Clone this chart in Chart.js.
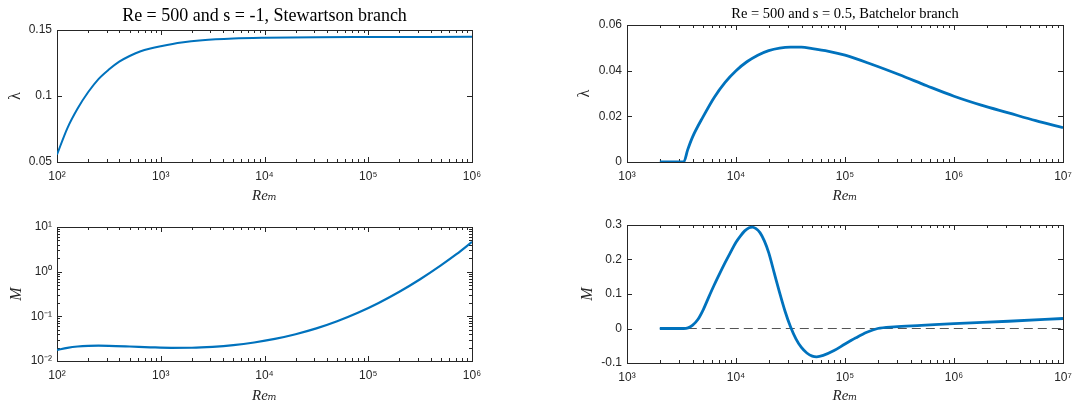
<!DOCTYPE html>
<html>
<head>
<meta charset="utf-8">
<script src="https://cdn.jsdelivr.net/npm/chart.js@4"></script>
<style>
  body { margin: 0; background: #fff; width: 1076px; height: 408px; position: relative; overflow: hidden; }
  .panel { position: absolute; }
</style>
</head>
<body>
<div class="panel" style="left:0;top:0;width:490px;height:205px"><canvas id="tl"></canvas></div>
<div class="panel" style="left:0;top:205px;width:490px;height:203px"><canvas id="bl"></canvas></div>
<div class="panel" style="left:560px;top:0;width:516px;height:205px"><canvas id="tr"></canvas></div>
<div class="panel" style="left:560px;top:205px;width:516px;height:203px"><canvas id="br"></canvas></div>
<script>
// Stewartson branch, Re = 500, s = -1
const reStew = [100, 126, 158, 200, 251, 316, 398, 501, 631, 794, 1000, 1585, 2512, 5012, 1e4, 31623, 1e5, 1e6];
const lamStew = [0.0556, 0.0757, 0.0905, 0.1030, 0.1128, 0.1200, 0.1260, 0.1303, 0.1337, 0.1360, 0.1377, 0.1405, 0.1422, 0.1435, 0.1441, 0.1446, 0.1447, 0.1448];
const reStewM = [100, 126, 158, 200, 251, 316, 501, 794, 1259, 1995, 3162, 5012, 7943, 12589, 19953, 31623, 50119, 79433, 125893, 199526, 316228, 501187, 707946, 1e6];
const mStew = [0.01766, 0.01972, 0.02113, 0.02188, 0.02203, 0.02188, 0.02113, 0.02028, 0.01972, 0.01982, 0.02075, 0.02265, 0.0260, 0.03126, 0.03981, 0.0537, 0.07762, 0.1202, 0.1995, 0.3548, 0.6761, 1.38, 2.455, 4.624];

// Batchelor branch, Re = 500, s = 0.5
const reBat = [2000, 3311, 3600, 3981, 5012, 6310, 7943, 1e4, 12589, 15849, 19953, 25119, 31623, 39811, 50119, 70795, 1e5, 177828, 316228, 562341, 1e6, 1778279, 3162278, 5623413, 1e7];
const lamBat = [0, 0, 0.0053, 0.0108, 0.020, 0.0283, 0.0349, 0.0400, 0.0439, 0.0468, 0.0488, 0.0499, 0.0503, 0.0503, 0.0497, 0.0485, 0.0468, 0.0427, 0.0382, 0.0334, 0.0288, 0.0249, 0.0215, 0.0181, 0.0150];
const reBatM = [2000, 3311, 3631, 3981, 4467, 5012, 5623, 6310, 7079, 7943, 8913, 1e4, 10965, 12023, 13183, 14125, 15136, 16596, 18197, 19953, 22387, 25119, 28184, 31623, 35481, 39811, 44668, 50119, 54954, 63096, 79433, 1e5, 125893, 158489, 199526, 281838, 501187, 1e6, 3162278, 1e7];
const mBat = [0, 0, 0.002, 0.009, 0.026, 0.055, 0.091, 0.126, 0.159, 0.191, 0.221, 0.250, 0.268, 0.283, 0.292, 0.294, 0.290, 0.278, 0.254, 0.220, 0.162, 0.104, 0.050, 0.005, -0.030, -0.055, -0.071, -0.080, -0.082, -0.078, -0.064, -0.045, -0.027, -0.011, 0.000, 0.005, 0.009, 0.014, 0.021, 0.029];

const tickFont = { family: "'Liberation Sans', Arial, sans-serif", size: 12 };
const serif = "'Liberation Serif', 'DejaVu Serif', serif";
const tickColor = '#262626';
const lineColor = '#0072BD';
const sup = { '-': '⁻', '0': '⁰', '1': '¹', '2': '²', '3': '³', '4': '⁴', '5': '⁵', '6': '⁶', '7': '⁷', '8': '⁸', '9': '⁹' };
const powLabel = (v) => {
  const e = Math.log10(v);
  if (Math.abs(e - Math.round(e)) > 1e-9) return '';
  return '10' + String(Math.round(e)).split('').map(c => sup[c]).join('');
};
const logTicks = (scale) => {
  const out = [];
  for (let e = Math.floor(Math.log10(scale.min)); e <= Math.ceil(Math.log10(scale.max)); e++) {
    for (let k = 1; k < 10; k++) {
      const v = k * Math.pow(10, e);
      if (v >= scale.min * 0.999 && v <= scale.max * 1.001) out.push({ value: v });
    }
  }
  scale.ticks = out;
};

// matlab style box with inward ticks on all four sides
const boxPlugin = {
  id: 'box',
  beforeDatasetsDraw(chart) {
    const { ctx, chartArea: a } = chart;
    ctx.save();
    ctx.strokeStyle = tickColor;
    ctx.lineWidth = 1;
    ctx.strokeRect(Math.round(a.left) + 0.5, Math.round(a.top) + 0.5, Math.round(a.right - a.left), Math.round(a.bottom - a.top));
    ctx.beginPath();
    [chart.scales.x, chart.scales.y].forEach((s) => {
      s.ticks.forEach((t) => {
        const major = s.type !== 'logarithmic' || powLabel(t.value) !== '';
        const len = major ? 5 : 3;
        const p = Math.round(s.getPixelForValue(t.value)) + 0.5;
        if (s.isHorizontal()) {
          ctx.moveTo(p, a.bottom); ctx.lineTo(p, a.bottom - len);
          ctx.moveTo(p, a.top); ctx.lineTo(p, a.top + len);
        } else {
          ctx.moveTo(a.left, p); ctx.lineTo(a.left + len, p);
          ctx.moveTo(a.right, p); ctx.lineTo(a.right - len, p);
        }
      });
    });
    ctx.stroke();
    ctx.restore();
  }
};

const xAxis = (min, max, h, pb) => ({
  type: 'logarithmic', min, max,
  afterBuildTicks: logTicks,
  afterFit: (s) => { s.height = h; s.paddingLeft = 0; s.paddingRight = 0; },
  grid: { display: false, drawTicks: false },
  border: { display: false },
  ticks: { autoSkip: false, maxRotation: 0, padding: 7, font: tickFont, color: tickColor, callback: (v) => powLabel(v) },
  title: { display: true, text: 'Reₘ', color: tickColor, padding: { top: 0, bottom: pb },
           font: { family: serif, size: 15, style: 'italic' } }
});
const yLin = (min, max, step, w, label, tp, fmt) => ({
  type: 'linear', min, max,
  afterFit: (s) => { s.width = w; },
  grid: { display: false, drawTicks: false },
  border: { display: false },
  ticks: { stepSize: step, padding: 5, font: tickFont, color: tickColor, callback: fmt },
  title: { display: true, text: label, color: tickColor, padding: { top: tp, bottom: 0 },
           font: { family: serif, size: 16, style: 'italic' } }
});
const line = (xs, ys, w) => ({
  data: xs.map((x, i) => ({ x, y: ys[i] })),
  borderColor: lineColor, borderWidth: w, pointRadius: 0, fill: false,
  cubicInterpolationMode: 'monotone'
});
const baseOpts = (pad, title, tsize, tpad) => ({
  responsive: true, maintainAspectRatio: false, animation: false,
  layout: { padding: pad },
  plugins: {
    legend: { display: false }, tooltip: { enabled: false },
    title: title ? { display: true, text: title, color: '#000', padding: tpad, fullSize: false,
      font: { family: serif, size: tsize, weight: 'normal' } } : { display: false }
  }
});

const fmt2 = (v) => String(Math.round(v * 100) / 100);

// top left
let o = baseOpts({ left: 0, top: 0, right: 18, bottom: 0 }, 'Re = 500 and s = -1, Stewartson branch', 18, { top: 5, bottom: 3.4 });
o.scales = { x: xAxis(100, 1e6, 43, 0), y: yLin(0.05, 0.15, 0.05, 57, 'λ', 6, fmt2) };
o.scales.y.title.font.style = 'normal';
new Chart('tl', { type: 'line', data: { datasets: [line(reStew, lamStew, 2)] }, options: o, plugins: [boxPlugin] });

// bottom left
o = baseOpts({ left: 0, top: 22, right: 18, bottom: 0 }, null);
o.scales = {
  x: xAxis(100, 1e6, 47, 3),
  y: {
    type: 'logarithmic', min: 0.01, max: 10,
    afterBuildTicks: logTicks,
    afterFit: (s) => { s.width = 57; },
    grid: { display: false, drawTicks: false },
    border: { display: false },
    ticks: { autoSkip: false, padding: 5, font: tickFont, color: tickColor, callback: (v) => powLabel(v) },
    title: { display: true, text: 'M', color: tickColor, padding: { top: 7, bottom: 0 },
             font: { family: serif, size: 16, style: 'italic' } }
  }
};
new Chart('bl', { type: 'line', data: { datasets: [line(reStewM, mStew, 2.2)] }, options: o, plugins: [boxPlugin] });

// top right
o = baseOpts({ left: 0, top: 0, right: 13, bottom: 0 }, 'Re = 500 and s = 0.5, Batchelor branch', 14.5, { top: 5, bottom: 2.6 });
o.scales = { x: xAxis(1e3, 1e7, 43, 0), y: yLin(0, 0.06, 0.02, 67, 'λ', 15, fmt2) };
o.scales.y.title.font.style = 'normal';
new Chart('tr', { type: 'line', data: { datasets: [line(reBat, lamBat, 2.8)] }, options: o, plugins: [boxPlugin] });

// bottom right
o = baseOpts({ left: 0, top: 20, right: 13, bottom: 0 }, null);
o.scales = { x: xAxis(1e3, 1e7, 45, 3), y: yLin(-0.1, 0.3, 0.1, 67, 'M', 18, (v) => String(Math.round(v * 10) / 10)) };
const zeroLine = {
  data: [{ x: 2000, y: 0 }, { x: 1e7, y: 0 }],
  borderColor: '#555', borderWidth: 1, borderDash: [9, 5], pointRadius: 0, fill: false
};
new Chart('br', { type: 'line', data: { datasets: [line(reBatM, mBat, 2.8), zeroLine] }, options: o, plugins: [boxPlugin] });
</script>
</body>
</html>
